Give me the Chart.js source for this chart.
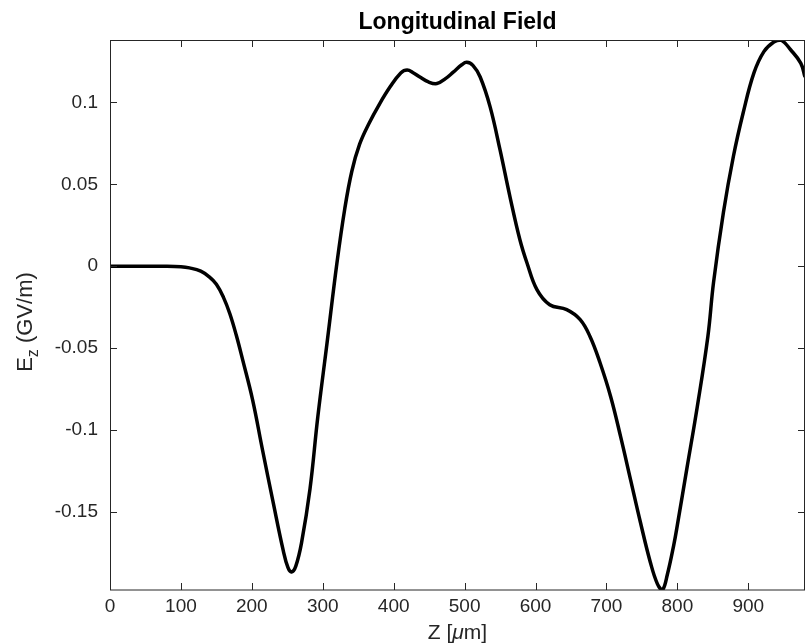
<!DOCTYPE html>
<html>
<head>
<meta charset="utf-8">
<title>Longitudinal Field</title>
<script src="https://cdn.jsdelivr.net/npm/chart.js@4"></script>
<style>
  html, body { margin: 0; padding: 0; background: #fff; }
  canvas { display: block; }
</style>
</head>
<body>
<canvas id="fieldChart" width="806" height="644"></canvas>
<script>
// Z positions (um) and longitudinal field Ez (GV/m)
const zData = [0, 25, 50, 75, 100, 112, 128, 140, 150, 160, 169, 178, 187, 201, 215, 230, 244, 251, 256, 262, 270, 282,
  293, 306, 320, 331, 341, 352, 365, 380, 395, 410, 419, 428, 437, 449, 461, 473, 484, 496, 503, 512, 522,
  536, 550, 564, 578, 588, 602, 620, 644, 663, 677, 691, 706, 720, 734, 748, 762, 772, 779, 786, 795,
  800, 814, 828, 843, 851, 865, 879, 893, 908, 922, 936, 946, 960, 974, 980];
const ezData = [0, 0, 0, 0, -0.0003, -0.001, -0.003, -0.0065, -0.011, -0.019, -0.029, -0.042, -0.057, -0.0814, -0.112, -0.144, -0.173, -0.184, -0.1866, -0.183, -0.169, -0.136,
  -0.092, -0.047, 0.002, 0.035, 0.058, 0.0745, 0.087, 0.099, 0.1095, 0.118, 0.1198, 0.118, 0.1155, 0.1125, 0.1115, 0.1145, 0.1185, 0.123, 0.1245, 0.1225, 0.1155,
  0.0973, 0.071, 0.0424, 0.0162, 0.002, -0.0143, -0.0235, -0.0265, -0.0326, -0.043, -0.0589, -0.0796, -0.104, -0.1302, -0.1564, -0.1808, -0.194, -0.1976, -0.188, -0.17,
  -0.158, -0.122, -0.086, -0.043, -0.01, 0.033, 0.067, 0.094, 0.118, 0.131, 0.1369, 0.1381, 0.132, 0.124, 0.1155];

const xTicks = [0, 100, 200, 300, 400, 500, 600, 700, 800, 900];
const yTicks = [-0.15, -0.1, -0.05, 0, 0.05, 0.1];

const axisColor = '#262626';
const fontFamily = '"Liberation Sans", Arial, Helvetica, sans-serif';

// MATLAB-like box with inward ticks on all four sides, plus the title and axis labels
const matlabAxes = {
  id: 'matlabAxes',
  afterDraw(chart) {
    const ctx = chart.ctx;
    const { left, right, top, bottom } = chart.chartArea;
    const xs = chart.scales.x;
    const ys = chart.scales.y;
    const tick = 7;

    ctx.save();
    ctx.strokeStyle = axisColor;
    ctx.lineWidth = 1;
    ctx.strokeRect(left + 0.5, top + 0.5, right - left - 1, bottom - top - 0.5);

    ctx.beginPath();
    xTicks.forEach(v => {
      const px = Math.round(xs.getPixelForValue(v)) + 0.5;
      ctx.moveTo(px, bottom);
      ctx.lineTo(px, bottom - tick);
      ctx.moveTo(px, top);
      ctx.lineTo(px, top + tick);
    });
    yTicks.forEach(v => {
      const py = Math.round(ys.getPixelForValue(v)) + 0.5;
      ctx.moveTo(left, py);
      ctx.lineTo(left + tick, py);
      ctx.moveTo(right, py);
      ctx.lineTo(right - tick, py);
    });
    ctx.stroke();

    const cx = (left + right) / 2;

    // title
    ctx.fillStyle = '#000';
    ctx.textAlign = 'center';
    ctx.textBaseline = 'alphabetic';
    ctx.font = 'bold 23px ' + fontFamily;
    ctx.fillText('Longitudinal Field', cx, 29);

    // x label: Z [mu m] with italic mu
    ctx.fillStyle = axisColor;
    ctx.textAlign = 'left';
    const normal = '21px ' + fontFamily;
    const italic = 'italic 21px ' + fontFamily;
    const parts = [['Z [', normal], ['\u03bc', italic], ['m]', normal]];
    let total = 0;
    parts.forEach(p => { ctx.font = p[1]; total += ctx.measureText(p[0]).width; });
    let x = cx - total / 2;
    parts.forEach(p => {
      ctx.font = p[1];
      ctx.fillText(p[0], x, 639);
      x += ctx.measureText(p[0]).width;
    });

    // y label: E_z (GV/m), rotated
    ctx.save();
    ctx.translate(32, 322);
    ctx.rotate(-Math.PI / 2);
    const big = '22px ' + fontFamily;
    const small = '16px ' + fontFamily;
    ctx.font = big;
    const wE = ctx.measureText('E').width;
    const wRest = ctx.measureText(' (GV/m)').width;
    ctx.font = small;
    const wZ = ctx.measureText('z').width;
    let t = -(wE + wZ + wRest) / 2;
    ctx.font = big;
    ctx.fillText('E', t, 0);
    t += wE;
    ctx.font = small;
    ctx.fillText('z', t, 6);
    t += wZ;
    ctx.font = big;
    ctx.fillText(' (GV/m)', t, 0);
    ctx.restore();

    ctx.restore();
  }
};

new Chart(document.getElementById('fieldChart').getContext('2d'), {
  type: 'line',
  data: {
    datasets: [{
      data: zData.map((z, i) => ({ x: z, y: ezData[i] })),
      borderColor: '#000',
      borderWidth: 3.5,
      pointRadius: 0,
      fill: false,
      tension: 0.4
    }]
  },
  options: {
    responsive: false,
    animation: false,
    devicePixelRatio: 1,
    layout: { padding: { top: 40, right: 1, left: 0, bottom: 0 } },
    plugins: {
      legend: { display: false },
      title: { display: false },
      tooltip: { enabled: false }
    },
    scales: {
      x: {
        type: 'linear',
        min: 0,
        max: 980,
        grid: { display: false, drawTicks: false },
        border: { display: false },
        ticks: {
          color: axisColor,
          font: { family: fontFamily, size: 19 },
          padding: 5,
          maxRotation: 0,
          callback: v => String(v)
        },
        afterBuildTicks: s => { s.ticks = xTicks.map(v => ({ value: v })); },
        afterFit: s => { s.height = 54; }
      },
      y: {
        type: 'linear',
        min: -0.1976,
        max: 0.1381,
        grid: { display: false, drawTicks: false },
        border: { display: false },
        ticks: {
          color: axisColor,
          font: { family: fontFamily, size: 19 },
          padding: 12,
          callback: v => String(v)
        },
        afterBuildTicks: s => { s.ticks = yTicks.map(v => ({ value: v })); },
        afterFit: s => { s.width = 110; }
      }
    }
  },
  plugins: [matlabAxes]
});
</script>
</body>
</html>
